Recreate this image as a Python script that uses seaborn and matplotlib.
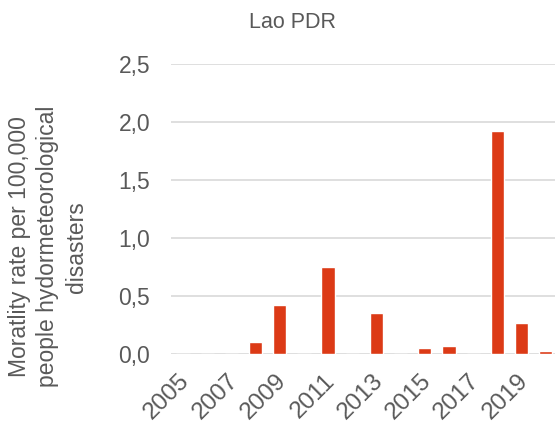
import pandas as pd
import seaborn as sns
import matplotlib.pyplot as plt
import matplotlib.transforms as mtransforms

# mortality rate per 100,000 people, hydrometeorological disasters - Lao PDR
years = [2005, 2006, 2007, 2008, 2009, 2010, 2011, 2012,
         2013, 2014, 2015, 2016, 2017, 2018, 2019, 2020]
rates = [0.0, 0.0, 0.0, 0.10, 0.42, 0.0, 0.75, 0.0,
         0.35, 0.0, 0.055, 0.07, 0.0, 1.92, 0.265, 0.025]
tick_years = [2005, 2007, 2009, 2011, 2013, 2015, 2017, 2019]

data = pd.DataFrame({'Year': years, 'Rate': rates})

sns.set_style("white")
plt.rcParams['font.family'] = ['Liberation Sans', 'DejaVu Sans']
grey = '#595959'

fig = plt.figure(figsize=(5.55, 4.26), dpi=100)
ax = fig.add_axes([0.308, 0.169, 0.697, 0.681])

sns.barplot(data=data, x='Year', y='Rate', color='#DC3A16', width=0.55,
            saturation=1, ax=ax, zorder=3)

ax.set_ylim(0, 2.5)
ax.set_yticks([0, 0.5, 1.0, 1.5, 2.0, 2.5])
ax.set_yticklabels([f"{v:.1f}".replace('.', ',') for v in [0, 0.5, 1.0, 1.5, 2.0, 2.5]])
ax.set_xlim(-0.5, len(years) - 0.5)
pos = [years.index(y) for y in tick_years]
ax.set_xticks(pos)
ax.set_xticklabels([str(y) for y in tick_years], rotation=45, ha='right',
                   va='center', rotation_mode='anchor')
ax.grid(axis='y', color='#D9D9D9', linewidth=1.2, zorder=0)
for s in ax.spines.values():
    s.set_visible(False)
ax.tick_params(axis='y', length=0, labelsize=16.5, colors=grey, pad=15)
ax.tick_params(axis='x', length=0, labelsize=17.5, colors=grey, pad=17)

# nudge the rotated year labels a little to the right
shift = mtransforms.ScaledTranslation(3 / 100, 0, fig.dpi_scale_trans)
for lab in ax.get_xticklabels():
    lab.set_transform(lab.get_transform() + shift)

ax.set_xlabel('')
ax.set_ylabel('Moratlity rate per 100,000\npeople hydormeteorological\ndisasters',
              fontsize=16.5, color=grey, linespacing=1.3)
ax.yaxis.set_label_coords(-0.215, 0.37)
fig.text(0.527, 0.935, 'Lao PDR', fontsize=15.5, color=grey, ha='center')

plt.savefig('out.png', dpi=100)
